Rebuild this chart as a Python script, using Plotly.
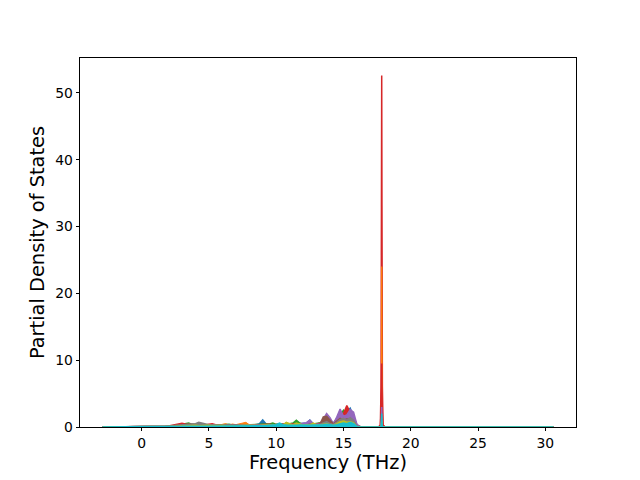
import plotly.graph_objects as go

# Frequency grid (THz)
freq_start = [-2.9]
freq_low = [1.0, 1.25, 1.5, 1.75, 2.0, 2.25, 2.5, 2.75, 3.0, 3.25, 3.5, 3.75,
            4.0, 4.25, 4.5, 4.75, 5.0, 5.25, 5.5, 5.75, 6.0, 6.25, 6.5, 6.75,
            7.0, 7.25, 7.5, 7.75, 8.0, 8.25, 8.5, 8.75, 9.0, 9.25, 9.5, 9.75,
            10.0, 10.25, 10.5, 10.75, 11.0, 11.25, 11.5, 11.75, 12.0, 12.25, 12.5, 12.75,
            13.0, 13.25, 13.5, 13.75, 14.0, 14.25, 14.5, 14.75, 15.0, 15.25, 15.5, 15.75,
            16.0, 16.25, 16.5, 16.75]
freq_peak = [17.6, 17.74, 17.79, 17.82, 17.84, 17.86, 17.89, 17.94, 18.1]
freq_end = [30.6]

# Partial DOS per projection, low-frequency band
blue_low = [0, 0, 0, 0.02, 0.05, 0.1, 0.15, 0.2, 0.25, 0.3, 0.3, 0.25,
            0.3, 0.35, 0.3, 0.25, 0.3, 0.25, 0.3, 0.25, 0.3, 0.35, 0.3, 0.25,
            0.3, 0.35, 0.3, 0.35, 0.3, 0.25, 0.35, 0.5, 1.05, 0.45, 0.3, 0.35,
            0.4, 0.35, 0.3, 0.4, 0.35, 0.4, 0.45, 0.5, 0.45, 0.6, 1.05, 0.5,
            0.4, 0.5, 0.9, 1.2, 0.8, 0.5, 1.3, 2.4, 1.8, 2.2, 2.8, 1.5,
            0.3, 0, 0, 0]
green_low = [0, 0, 0, 0.03, 0.08, 0.12, 0.2, 0.25, 0.4, 0.5, 0.6, 0.4,
             0.35, 0.3, 0.35, 0.3, 0.3, 0.35, 0.3, 0.3, 0.35, 0.3, 0.4, 0.3,
             0.35, 0.3, 0.35, 0.3, 0.3, 0.35, 0.3, 0.4, 0.45, 0.4, 0.45, 0.6,
             0.4, 0.45, 0.4, 0.45, 0.5, 0.6, 1.0, 0.6, 0.4, 0.5, 0.6, 0.45,
             0.5, 0.6, 0.7, 0.9, 0.7, 0.6, 1.1, 1.8, 2.5, 1.9, 2.1, 1.3,
             0.2, 0, 0, 0]
red_low = [0, 0, 0.02, 0.05, 0.15, 0.25, 0.35, 0.45, 0.55, 0.45, 0.4, 0.35,
           0.3, 0.35, 0.4, 0.3, 0.4, 0.5, 0.35, 0.3, 0.35, 0.3, 0.35, 0.3,
           0.3, 0.35, 0.3, 0.3, 0.35, 0.3, 0.3, 0.35, 0.4, 0.35, 0.4, 0.35,
           0.4, 0.35, 0.45, 0.4, 0.45, 0.4, 0.5, 0.45, 0.4, 0.5, 0.55, 0.5,
           0.45, 0.55, 0.8, 1.0, 0.6, 0.5, 0.9, 1.7, 2.0, 3.2, 2.2, 1.6,
           0.3, 0, 0, 0]
orange_low = [0, 0, 0, 0.02, 0.05, 0.1, 0.15, 0.2, 0.3, 0.35, 0.3, 0.3,
              0.35, 0.3, 0.35, 0.3, 0.35, 0.3, 0.35, 0.3, 0.4, 0.5, 0.3, 0.45,
              0.35, 0.5, 0.65, 0.7, 0.35, 0.3, 0.4, 0.3, 0.35, 0.3, 0.35, 0.3,
              0.35, 0.3, 0.35, 0.3, 0.35, 0.3, 0.4, 0.35, 0.4, 0.35, 0.4, 0.35,
              0.4, 0.45, 0.6, 0.7, 0.5, 0.4, 0.8, 1.2, 1.4, 1.5, 1.3, 1.0,
              0.2, 0, 0, 0]
red2_low = [0, 0, 0, 0, 0.02, 0.05, 0.1, 0.12, 0.15, 0.2, 0.15, 0.2,
            0.2, 0.15, 0.2, 0.15, 0.2, 0.15, 0.2, 0.15, 0.2, 0.15, 0.2, 0.15,
            0.2, 0.15, 0.2, 0.15, 0.2, 0.15, 0.2, 0.15, 0.2, 0.25, 0.2, 0.25,
            0.2, 0.25, 0.2, 0.25, 0.2, 0.25, 0.3, 0.25, 0.3, 0.25, 0.3, 0.25,
            0.3, 0.35, 0.4, 0.5, 0.35, 0.3, 0.5, 0.9, 1.3, 1.9, 1.2, 0.8,
            0.1, 0, 0, 0]
purple_low = [0, 0, 0, 0, 0.02, 0.05, 0.1, 0.15, 0.2, 0.25, 0.25, 0.2,
              0.25, 0.3, 0.25, 0.25, 0.3, 0.25, 0.25, 0.3, 0.25, 0.3, 0.25, 0.3,
              0.25, 0.3, 0.25, 0.3, 0.25, 0.3, 0.3, 0.25, 0.3, 0.35, 0.3, 0.3,
              0.35, 0.3, 0.35, 0.6, 0.4, 0.35, 0.4, 0.45, 0.5, 0.65, 1.0, 0.5,
              0.4, 0.5, 1.2, 2.0, 1.4, 0.5, 1.5, 2.7, 1.6, 1.8, 2.6, 2.2,
              0.4, 0, 0, 0]
brown_low = [0, 0, 0.02, 0.05, 0.1, 0.15, 0.2, 0.2, 0.25, 0.3, 0.25, 0.3,
             0.35, 0.4, 0.35, 0.3, 0.3, 0.35, 0.3, 0.25, 0.3, 0.25, 0.3, 0.35,
             0.3, 0.25, 0.3, 0.3, 0.3, 0.35, 0.3, 0.3, 0.35, 0.3, 0.35, 0.3,
             0.3, 0.35, 0.3, 0.35, 0.3, 0.35, 0.3, 0.35, 0.35, 0.3, 0.4, 0.35,
             0.35, 0.4, 1.5, 1.6, 1.0, 0.45, 0.9, 1.3, 1.0, 1.2, 1.1, 0.8,
             0.1, 0, 0, 0]
pink_low = [0, 0, 0, 0, 0.02, 0.05, 0.08, 0.1, 0.15, 0.2, 0.15, 0.2,
            0.2, 0.25, 0.2, 0.2, 0.25, 0.2, 0.25, 0.2, 0.2, 0.25, 0.2, 0.25,
            0.2, 0.25, 0.2, 0.25, 0.2, 0.25, 0.2, 0.25, 0.3, 0.25, 0.3, 0.25,
            0.3, 0.25, 0.3, 0.25, 0.3, 0.25, 0.3, 0.3, 0.3, 0.35, 0.3, 0.35,
            0.3, 0.35, 0.5, 0.6, 0.4, 0.3, 0.6, 1.0, 1.2, 0.9, 1.1, 0.7,
            0.1, 0, 0, 0]
gray_low = [0, 0.02, 0.05, 0.1, 0.15, 0.2, 0.25, 0.3, 0.35, 0.4, 0.35, 0.4,
            0.5, 0.7, 0.55, 0.45, 0.35, 0.3, 0.35, 0.3, 0.3, 0.35, 0.3, 0.3,
            0.25, 0.3, 0.25, 0.3, 0.25, 0.3, 0.25, 0.3, 0.3, 0.25, 0.3, 0.25,
            0.3, 0.25, 0.3, 0.3, 0.3, 0.3, 0.35, 0.3, 0.3, 0.35, 0.3, 0.35,
            0.3, 0.35, 0.6, 0.8, 0.5, 0.35, 0.7, 1.1, 1.3, 1.0, 1.4, 1.0,
            0.1, 0, 0, 0]
olive_low = [0, 0, 0, 0, 0.03, 0.05, 0.1, 0.12, 0.15, 0.2, 0.2, 0.25,
             0.25, 0.2, 0.25, 0.2, 0.25, 0.2, 0.25, 0.2, 0.25, 0.2, 0.25, 0.2,
             0.2, 0.25, 0.2, 0.25, 0.25, 0.2, 0.25, 0.2, 0.25, 0.3, 0.25, 0.3,
             0.3, 0.35, 0.3, 0.7, 0.45, 0.3, 0.6, 0.4, 0.3, 0.35, 0.3, 0.6,
             0.35, 0.3, 0.4, 0.5, 0.3, 0.25, 0.5, 0.8, 0.9, 0.7, 0.8, 0.6,
             0.05, 0, 0, 0]
cyan_low = [0, 0, 0, 0, 0.02, 0.04, 0.06, 0.08, 0.1, 0.12, 0.1, 0.12,
            0.1, 0.12, 0.1, 0.12, 0.12, 0.1, 0.12, 0.1, 0.12, 0.1, 0.12, 0.1,
            0.12, 0.1, 0.12, 0.1, 0.12, 0.1, 0.12, 0.15, 0.15, 0.2, 0.25, 0.3,
            0.35, 0.6, 0.35, 0.3, 0.25, 0.3, 0.25, 0.3, 0.25, 0.3, 0.25, 0.3,
            0.3, 0.25, 0.35, 0.4, 0.3, 0.25, 0.35, 0.5, 0.6, 0.5, 0.7, 0.5,
            0.05, 0, 0, 0]

# Sharp mode near 17.8 THz
red_peak = [0, 0.3, 6.0, 33.0, 52.6, 33.0, 6.0, 0.3, 0]
orange_peak = [0, 0, 0, 0, 24.0, 0, 0, 0, 0]
red2_peak = [0, 0.2, 2.0, 6.0, 9.5, 6.0, 2.0, 0.2, 0]
blue_peak = [0, 0, 0, 1.2, 4.0, 1.2, 0, 0, 0]
green_peak = [0, 0, 0, 0.6, 1.8, 0.6, 0, 0, 0]
purple_peak = [0, 0, 0, 0.8, 3.0, 0.8, 0, 0, 0]
brown_peak = [0, 0, 0, 0.4, 1.2, 0.4, 0, 0, 0]
pink_peak = [0, 0, 0, 0.3, 1.0, 0.3, 0, 0, 0]
gray_peak = [0, 0, 0, 0.5, 1.5, 0.5, 0, 0, 0]
olive_peak = [0, 0, 0, 0.3, 0.9, 0.3, 0, 0, 0]
cyan_peak = [0, 0, 0, 0.6, 2.0, 0.6, 0, 0, 0]

# drawing order (back to front): colour, low band, peak, line width
series = [
    ("#1f77b4", blue_low, blue_peak, 1.5),
    ("#2ca02c", green_low, green_peak, 1.5),
    ("#d62728", red_low, red_peak, 1.5),
    ("#ff7f0e", orange_low, orange_peak, 1.0),
    ("#d62728", red2_low, red2_peak, 1.5),
    ("#9467bd", purple_low, purple_peak, 1.5),
    ("#8c564b", brown_low, brown_peak, 1.5),
    ("#e377c2", pink_low, pink_peak, 1.5),
    ("#7f7f7f", gray_low, gray_peak, 1.5),
    ("#bcbd22", olive_low, olive_peak, 1.5),
    ("#17becf", cyan_low, cyan_peak, 1.5),
]

freq = freq_start + freq_low + freq_peak + freq_end

fig = go.Figure()
for color, low, peak, lw in series:
    y = [0] + low + peak + [0]
    fig.add_trace(go.Scatter(
        x=freq, y=y, mode="lines", fill="tozeroy",
        line=dict(color=color, width=lw), fillcolor=color,
        showlegend=False, hoverinfo="skip"))

font = "DejaVu Sans, Liberation Sans, sans-serif"
fig.update_layout(
    width=640, height=480,
    margin=dict(l=80, r=64, t=58, b=53),
    paper_bgcolor="white", plot_bgcolor="white",
    font=dict(family=font, size=14, color="black"),
)
fig.update_xaxes(
    range=[-4.575, 32.275], tickvals=[0, 5, 10, 15, 20, 25, 30],
    ticks="outside", ticklen=3.5, tickwidth=0.8, tickcolor="black",
    showline=True, linecolor="black", linewidth=0.8, mirror=True,
    showgrid=False, zeroline=False, automargin=False,
    tickfont=dict(size=13.9),
    title=dict(text="Frequency (THz)", font=dict(size=19.4), standoff=5),
)
fig.update_yaxes(
    range=[0, 55.23], tickvals=[0, 10, 20, 30, 40, 50],
    ticks="outside", ticklen=3.5, tickwidth=0.8, tickcolor="black",
    showline=True, linecolor="black", linewidth=0.8, mirror=True,
    showgrid=False, zeroline=False, automargin=False,
    tickfont=dict(size=13.9),
    title=dict(text="Partial Density of States", font=dict(size=19.4), standoff=5),
)

fig.write_html("out.html", config={"displayModeBar": False},
               post_script="document.body.style.margin='0';")
